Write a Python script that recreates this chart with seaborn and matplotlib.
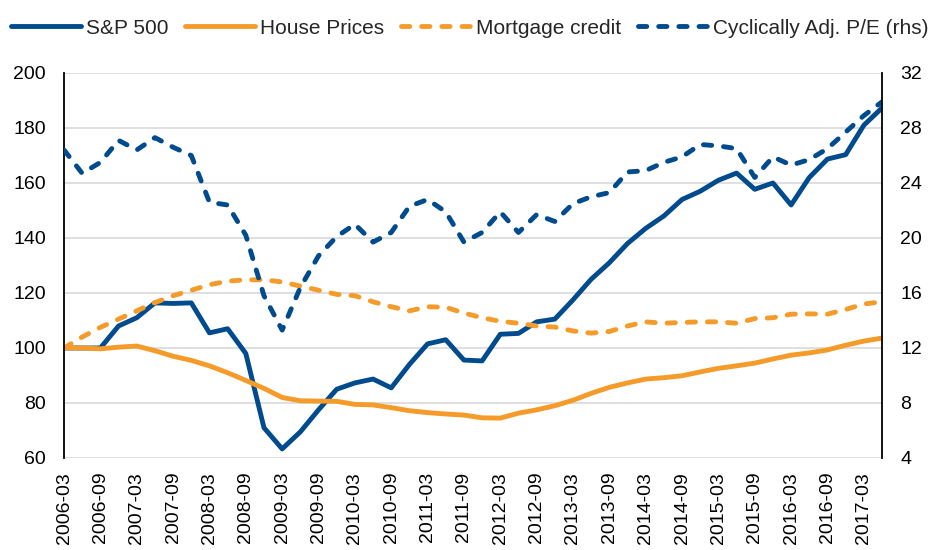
import matplotlib
matplotlib.use("Agg")
import matplotlib.pyplot as plt
import seaborn as sns
import numpy as np
import pandas as pd

# Séries trimestrielles 2006-03 .. 2017-06 (indice 2006-03 = 100 ; CAPE en niveau)
QUARTERS = [f"{p.year}-{p.quarter * 3:02d}"
            for p in pd.period_range("2006Q1", "2017Q2", freq="Q")]

SP500 = [100, 100, 100, 108, 111, 116.4, 116.2, 116.4, 105.5, 107,
         98, 71, 63.3, 69.5, 77.5, 85, 87.3, 88.7, 85.5, 94,
         101.5, 103, 95.6, 95.3, 105, 105.3, 109.5, 110.5, 117.5, 125,
         131, 138, 143.5, 148, 154, 157, 161, 163.6, 157.7, 160,
         152, 162, 168.7, 170.3, 181, 187.3]

HOUSE = [100, 100, 99.7, 100.3, 100.7, 99, 97, 95.5, 93.5, 91,
         88.2, 85.3, 82, 80.8, 80.7, 80.6, 79.5, 79.3, 78.3, 77.2,
         76.5, 76, 75.6, 74.6, 74.5, 76.3, 77.5, 79, 81, 83.5,
         85.7, 87.3, 88.7, 89.2, 89.9, 91.3, 92.6, 93.5, 94.5, 96,
         97.4, 98.2, 99.3, 101, 102.5, 103.6]

MORTGAGE = [100, 104, 107.5, 110.5, 113.5, 116.5, 119, 121, 123, 124.3,
            124.8, 124.8, 124, 122.5, 121, 119.5, 119, 116.8, 115, 113.5,
            115, 114.8, 112.7, 111, 109.7, 109, 108, 107.6, 106.2, 105.4,
            106, 108, 109.5, 109, 109.3, 109.5, 109.5, 109, 110.7, 111,
            112.3, 112.4, 112.3, 114, 116, 116.8]

CAPE = [26.4, 24.7, 25.5, 27.1, 26.4, 27.3, 26.6, 26, 22.6, 22.4,
        20.2, 15.8, 13.3, 16.4, 18.7, 20.1, 21, 19.7, 20.4, 22.3,
        22.8, 21.9, 19.7, 20.4, 21.9, 20.4, 21.7, 21.2, 22.5, 23,
        23.3, 24.8, 24.9, 25.5, 25.9, 26.8, 26.7, 26.5, 24.4, 25.9,
        25.3, 25.7, 26.5, 27.7, 28.9, 29.9]

BLUE = "#004B8D"
ORANGE = "#F59B2A"
LW = 3.5
DASH = (0, (1.7, 2.45))

sns.set_theme(style="white")
plt.rcParams["font.family"] = ["Liberation Sans", "DejaVu Sans"]

df = pd.DataFrame({"x": np.arange(len(QUARTERS)), "sp": SP500,
                   "house": HOUSE, "mort": MORTGAGE, "cape": CAPE})

fig = plt.figure(figsize=(9.39, 5.5), dpi=100)
ax = fig.add_axes([0.0682, 0.1673, 0.8711, 0.70])
ax2 = ax.twinx()

sns.lineplot(data=df, x="x", y="sp", ax=ax, color=BLUE, lw=LW,
             solid_capstyle="round", label="S&P 500")
sns.lineplot(data=df, x="x", y="house", ax=ax, color=ORANGE, lw=LW,
             solid_capstyle="round", label="House Prices")
sns.lineplot(data=df, x="x", y="mort", ax=ax, color=ORANGE, lw=LW,
             linestyle=DASH, dash_capstyle="round", label="Mortgage credit")
sns.lineplot(data=df, x="x", y="cape", ax=ax2, color=BLUE, lw=LW,
             linestyle=DASH, dash_capstyle="round",
             label="Cyclically Adj. P/E (rhs)")

for a in (ax, ax2):
    if a.get_legend() is not None:
        a.get_legend().remove()

ax.set_xlim(0, len(QUARTERS) - 1)
ax.set_ylim(60, 200)
ax.set_yticks(np.arange(60, 201, 20))
ax2.set_ylim(4, 32)
ax2.set_yticks(np.arange(4, 33, 4))

ax.set_xticks(df["x"][::2])
ax.set_xticklabels(QUARTERS[::2], rotation=90)
ax.set_xlabel("")
ax.set_ylabel("")
ax2.set_ylabel("")

ax.yaxis.grid(True, color="#d9d9d9", lw=1.2)
ax.xaxis.grid(False)
ax2.grid(False)

for a in (ax, ax2):
    for s in a.spines.values():
        s.set_visible(False)
ax.spines["left"].set_visible(True)
ax.spines["left"].set_color("black")
ax.spines["left"].set_linewidth(1.3)
ax2.spines["right"].set_visible(True)
ax2.spines["right"].set_color("black")
ax2.spines["right"].set_linewidth(1.3)

ax.tick_params(axis="y", length=0, pad=13, labelsize=14, colors="black")
ax.tick_params(axis="x", length=0, pad=10, labelsize=14, colors="black")
ax2.tick_params(axis="y", length=0, pad=13, labelsize=14, colors="black")

handles = ax.get_lines()[:3] + ax2.get_lines()[:1]
labels = ["S&P 500", "House Prices", "Mortgage credit",
          "Cyclically Adj. P/E (rhs)"]
fig.legend(handles, labels, loc="upper center", bbox_to_anchor=(0.5, 1.0),
           ncol=4, frameon=False, fontsize=15, handlelength=3.35,
           handletextpad=0.25, columnspacing=0.8)

fig.savefig("out.png", dpi=100, facecolor="white")
